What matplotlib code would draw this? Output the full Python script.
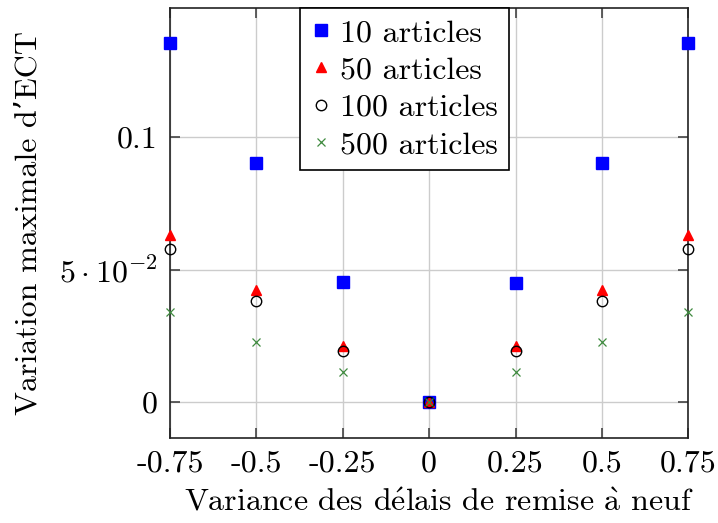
import matplotlib
matplotlib.use("Agg")
import matplotlib.pyplot as plt
from matplotlib.ticker import FixedLocator

plt.rcParams["font.family"] = ["cmr10", "DejaVu Serif"]
plt.rcParams["mathtext.fontset"] = "cm"
plt.rcParams["axes.unicode_minus"] = False

variance = [-0.75, -0.5, -0.25, 0.0, 0.25, 0.5, 0.75]
ect_10 = [0.1353, 0.0902, 0.0452, 0.0, 0.0450, 0.0902, 0.1353]
ect_50 = [0.0629, 0.0422, 0.0212, 0.0, 0.0212, 0.0422, 0.0629]
ect_100 = [0.0576, 0.0383, 0.0192, 0.0, 0.0192, 0.0383, 0.0576]
ect_500 = [0.0339, 0.0226, 0.0113, 0.0, 0.0113, 0.0226, 0.0339]

x_ticks = [-0.75, -0.5, -0.25, 0, 0.25, 0.5, 0.75]
x_ticklabels = ["-0.75", "-0.5", "-0.25", "0", "0.25", "0.5", "0.75"]
y_ticks = [0, 0.05, 0.1]
y_ticklabels = ["0", r"$5\cdot10^{-2}$", "0.1"]

fs = 23

fig = plt.figure(figsize=(7.18, 5.23), dpi=100)
ax = fig.add_axes([0.2368, 0.1625, 0.9587 - 0.2368, 0.9853 - 0.1625])

ax.plot(variance, ect_10, "s", color="#0000ff", ms=8.6, mec="#0000ff", label="10 articles", clip_on=False, zorder=3)
ax.plot(variance, ect_50, "^", color="#ff0000", ms=7.5, mec="#ff0000", label="50 articles", clip_on=False, zorder=3)
ax.plot(variance, ect_100, "o", mfc="none", mec="black", ms=7.5, mew=1.0, label="100 articles", clip_on=False, zorder=3)
ax.plot(variance, ect_500, "x", color="#3f8a3f", ms=5.5, mew=0.9, label="500 articles", clip_on=False, zorder=3)

ax.set_xlim(-0.75, 0.75)
ax.set_ylim(-0.0135, 0.1488)
ax.xaxis.set_major_locator(FixedLocator(x_ticks))
ax.set_xticklabels(x_ticklabels)
ax.yaxis.set_major_locator(FixedLocator(y_ticks))
ax.set_yticklabels(y_ticklabels)
ax.tick_params(direction="in", length=7, width=1.2, color="#444444",
               top=True, right=True, labelsize=fs, pad=9)
ax.grid(True, color="#cccccc", lw=1.0, zorder=0)
ax.set_axisbelow(True)
for s in ax.spines.values():
    s.set_linewidth(1.2)
    s.set_color("#222222")

ax.set_xlabel(r"Variance des d$\acute{\mathrm{e}}$lais de remise $\grave{\mathrm{a}}$ neuf", fontsize=fs)
ax.xaxis.set_label_coords(0.519, -0.117)
ax.set_ylabel("Variation maximale d\u2019ECT", fontsize=fs, labelpad=12)

leg = ax.legend(loc="upper left", bbox_to_anchor=(0.2508, 1.0), fontsize=fs,
                frameon=True, fancybox=False, framealpha=1, edgecolor="black",
                handlelength=0.6, handletextpad=0.3, borderpad=0.35,
                labelspacing=0.28, borderaxespad=0)
leg.get_frame().set_linewidth(1.2)

fig.savefig("out.png", dpi=100)
